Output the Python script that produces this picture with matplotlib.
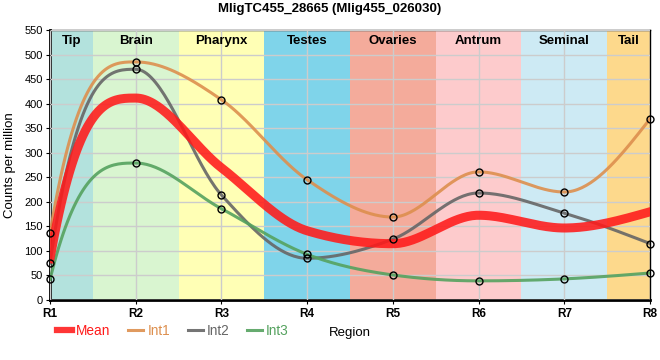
import numpy as np
import matplotlib
matplotlib.use('Agg')
import matplotlib.pyplot as plt

plt.rcParams['font.family'] = ['Liberation Sans', 'DejaVu Sans']

# data
regions = ['R1', 'R2', 'R3', 'R4', 'R5', 'R6', 'R7', 'R8']
tissues = ['Tip', 'Brain', 'Pharynx', 'Testes', 'Ovaries', 'Antrum', 'Seminal', 'Tail']
tissue_colors = ['#b3e2dd', '#d9f5d0', '#ffffb5', '#7fd4ea', '#f4ab9b',
                 '#fdcbcc', '#cdeaf4', '#fdd98c']
int1 = [136, 485, 408, 245, 169, 261, 220, 369]
int2 = [75, 470, 214, 85, 124, 218, 177, 115]
int3 = [42, 279, 186, 93, 51, 39, 43, 55]
mean = list(np.mean([int1, int2, int3], axis=0))


def smooth_line(x, y, n=40):
    # monotone cubic (d3-like) used only to draw the line between the points
    x = np.asarray(x, float)
    y = np.asarray(y, float)
    h = np.diff(x)
    s = np.diff(y) / h
    t = np.zeros(len(x))
    for i in range(1, len(x) - 1):
        p = (s[i - 1] * h[i] + s[i] * h[i - 1]) / (h[i - 1] + h[i])
        t[i] = (np.sign(s[i - 1]) + np.sign(s[i])) * min(abs(s[i - 1]), abs(s[i]), 0.5 * abs(p))
    t[0] = 3 * s[0] - t[1]
    t[-1] = (3 * s[-1] - t[-2]) / 2
    xs, ys = [], []
    for i in range(len(x) - 1):
        u = np.linspace(0, 1, n)
        dx = h[i]
        p0, p1 = y[i], y[i] + dx * t[i] / 3
        p2, p3 = y[i + 1] - dx * t[i + 1] / 3, y[i + 1]
        xs.append(x[i] + dx * u)
        ys.append((1 - u) ** 3 * p0 + 3 * (1 - u) ** 2 * u * p1 + 3 * (1 - u) * u ** 2 * p2 + u ** 3 * p3)
    return np.concatenate(xs), np.concatenate(ys)


fig = plt.figure(figsize=(6.6, 3.6), dpi=100)
ax = fig.add_axes([50 / 660, 60 / 360, 600 / 660, 270 / 360])
xpos = np.arange(len(regions))

for i, (name, col) in enumerate(zip(tissues, tissue_colors)):
    lo, hi = max(i - 0.5, 0), min(i + 0.5, len(regions) - 1)
    ax.axvspan(lo, hi, color=col, lw=0, zorder=0)
    ax.text((lo + hi) / 2, 527, name, ha='center', va='center',
            fontsize=9.5, fontweight='bold', zorder=5)

ax.grid(True, color='#cccccc', lw=1, zorder=1)
ax.set_axisbelow(False)

series = [('Int1', int1, '#dd8f4e'), ('Int2', int2, '#666666'), ('Int3', int3, '#55a25f')]
for name, vals, col in series:
    sx, sy = smooth_line(xpos, vals)
    ax.plot(sx, sy, color=col, lw=2.2, alpha=0.9, label=name, zorder=3)

mx, my = smooth_line(xpos, mean)
ax.plot(mx, my, color='#ff1a1a', lw=6.5, alpha=0.88, label='Mean', zorder=4)

for name, vals, col in series:
    ax.plot(xpos, vals, 'o', ms=5, mfc='none', mec='black', mew=1, zorder=6, clip_on=False)

ax.set_xlim(0, len(regions) - 1)
ax.set_ylim(0, 550)
ax.set_yticks(np.arange(0, 551, 50))
ax.set_xticks(xpos)
ax.set_xticklabels(regions, fontsize=8.5, fontweight='bold')
ax.tick_params(axis='y', labelsize=8, length=3, pad=2)
ax.tick_params(axis='x', length=3, pad=3)
for side in ['left', 'bottom']:
    ax.spines[side].set_linewidth(2)
for side in ['top', 'right']:
    ax.spines[side].set_linewidth(1)
ax.set_ylabel('Counts per million', fontsize=9.5, labelpad=6)
ax.set_xlabel('Region', fontsize=9.5, labelpad=5)
fig.suptitle('MligTC455_28665 (Mlig455_026030)', x=0.5, y=1 - 9 / 360, va='center',
             fontsize=9.5, fontweight='bold')

handles, labels = ax.get_legend_handles_labels()
order = [3, 0, 1, 2]
leg = fig.legend([handles[i] for i in order], [labels[i] for i in order],
                 loc='center left', bbox_to_anchor=(45 / 660, 1 - 331 / 360), ncol=4,
                 frameon=False, fontsize=9.8, handlelength=1.1, handletextpad=0.3,
                 columnspacing=1.3, labelcolor='linecolor')
leg.legend_handles[0].set_linewidth(4.5)

fig.savefig('out.png', dpi=100)
